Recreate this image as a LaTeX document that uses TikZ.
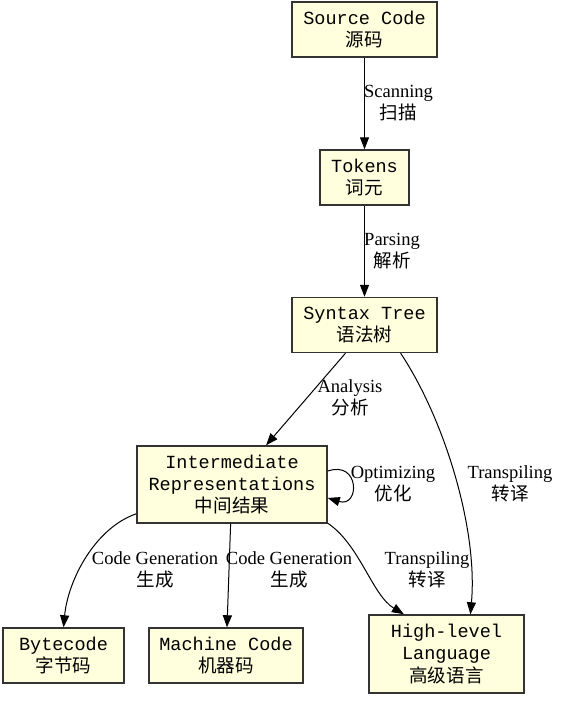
\documentclass[tikz,border=0pt]{standalone}
\usepackage{fontspec}
\setmainfont{Liberation Serif}
\setmonofont{Liberation Mono}
\newfontfamily\cjk{Noto Sans CJK SC}
\usetikzlibrary{arrows.meta}
\definecolor{boxfill}{HTML}{FFFFDD}
\definecolor{boxline}{HTML}{333333}
\newcommand{\zh}[1]{{\cjk #1}}
\newcommand{\gvsize}{\fontsize{13.9pt}{16.8pt}\selectfont}
\tikzset{
  stage/.style={rectangle, draw=boxline, fill=boxfill, line width=1.1pt,
                align=center, font=\gvsize\ttfamily, inner sep=2pt,
                minimum width=#1, minimum height=41.25pt},
  ar/.style={-{Triangle[length=9pt,width=6.8pt]}, line width=0.75pt, draw=black},
  lbl/.style={font=\gvsize, align=center, inner sep=0pt},
}
\begin{document}
\begin{tikzpicture}[x=0.75pt, y=-0.75pt]
  \useasboundingbox (0,0) rectangle (568,709);

  \node[stage=108.75pt] (src) at (364.5,29.5) {Source Code\\\zh{源码}};
  \node[stage=66.75pt] (tok) at (364.5,177.5) {Tokens\\\zh{词元}};
  \node[stage=108.75pt] (ast) at (364.5,325) {Syntax Tree\\\zh{语法树}};
  \node[stage=142.5pt, minimum height=57.75pt] (ir) at (232,484.5)
       {Intermediate\\Representations\\\zh{中间结果}};
  \node[stage=90.75pt] (bc) at (63.5,655.5) {Bytecode\\\zh{字节码}};
  \node[stage=115.5pt] (mc) at (226,655.5) {Machine Code\\\zh{机器码}};
  \node[stage=116.25pt, minimum height=58.5pt] (hl) at (446.5,654)
       {High-level\\Language\\\zh{高级语言}};

  \draw[ar] (src) -- (tok) node[lbl] at (398.5,103) {Scanning\\\zh{扫描}};
  \draw[ar] (tok) -- (ast) node[lbl] at (392,251) {Parsing\\\zh{解析}};
  \draw[ar] (ast.-124) -- (ir.49) node[lbl] at (350,398) {Analysis\\\zh{分析}};
  \draw[ar] (ast.-38) .. controls (445,420) and (478,530) .. (hl.59)
       node[lbl] at (510,484) {Transpiling\\\zh{转译}};
  \draw[ar] (ir.8) .. controls (360,460) and (360,508) .. (ir.-8)
       node[lbl] at (393,484) {Optimizing\\\zh{优化}};
  \draw[ar] (ir.-163) .. controls (95,528) and (68,580) .. (bc.north)
       node[lbl] at (155,570) {Code Generation\\\zh{生成}};
  \draw[ar] (ir) -- (mc) node[lbl] at (289,570) {Code Generation\\\zh{生成}};
  \draw[ar] (ir.-22) .. controls (360,545) and (372,595) .. (hl.137)
       node[lbl] at (427,570) {Transpiling\\\zh{转译}};
\end{tikzpicture}
\end{document}
